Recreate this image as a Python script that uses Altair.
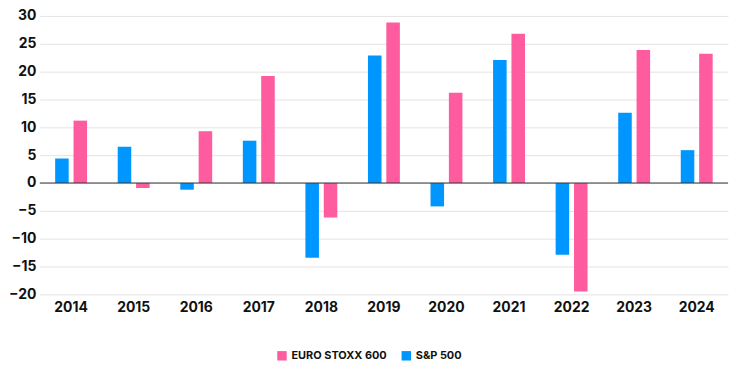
import altair as alt
import pandas as pd

years = ["2014", "2015", "2016", "2017", "2018", "2019", "2020", "2021", "2022", "2023", "2024"]
sp500 = [4.4, 6.5, -1.2, 7.6, -13.4, 22.9, -4.2, 22.1, -12.9, 12.6, 5.9]
stoxx600 = [11.2, -0.9, 9.3, 19.2, -6.2, 28.8, 16.2, 26.8, -19.5, 23.9, 23.2]
series = ["EURO STOXX 600", "S&P 500"]
colors = ["#FF5CA0", "#0096FF"]
y_ticks = [-20, -15, -10, -5, 0, 5, 10, 15, 20, 25, 30]

rows = []
for i, yr in enumerate(years):
    rows.append({"year": yr, "series": "S&P 500", "value": sp500[i]})
    rows.append({"year": yr, "series": "EURO STOXX 600", "value": stoxx600[i]})
df = pd.DataFrame(rows)

FONT = "Inter"

y_axis = alt.Axis(values=y_ticks, ticks=False, domain=False, grid=True,
                  gridColor="#e3e3e3", gridWidth=1, labelOverlap=False,
                  labelFont=FONT, labelFontSize=14, labelFontWeight="bold",
                  labelColor="#111", labelPadding=4)
y_scale = alt.Scale(domain=[-20, 30], nice=False, zero=False)

bars = alt.Chart(df).mark_bar().encode(
    x=alt.X("year:N", sort=years, title=None,
            scale=alt.Scale(paddingInner=0.49, paddingOuter=0.245),
            axis=alt.Axis(labelAngle=0, ticks=False, domain=False, grid=False,
                          labelFont=FONT, labelFontSize=14, labelFontWeight="bold",
                          labelColor="#111", labelPadding=6)),
    xOffset=alt.XOffset("series:N", sort=["S&P 500", "EURO STOXX 600"],
                        scale=alt.Scale(paddingInner=0.263, paddingOuter=0)),
    y=alt.Y("value:Q", title=None, scale=y_scale, axis=y_axis),
    color=alt.Color("series:N", scale=alt.Scale(domain=series, range=colors),
                    legend=alt.Legend(title=None, orient="none", direction="horizontal",
                                      legendX=238, legendY=336,
                                      symbolType="square", symbolSize=90,
                                      symbolStrokeWidth=0,
                                      labelFont=FONT, labelFontSize=11,
                                      labelFontWeight="bold", labelColor="#111",
                                      columnPadding=14)),
)

zero = alt.Chart(pd.DataFrame({"v": [0]})).mark_rule(color="#333", strokeWidth=1).encode(
    y=alt.Y("v:Q", title=None, scale=y_scale, axis=y_axis)
)

chart = alt.layer(bars, zero).properties(
    width=692, height=280,
    padding={"left": 0, "top": 0, "right": 0, "bottom": 0},
).configure_view(stroke=None).configure_axis(labelFont=FONT)

chart.save("out.html", embed_options={"renderer": "svg", "actions": False})
